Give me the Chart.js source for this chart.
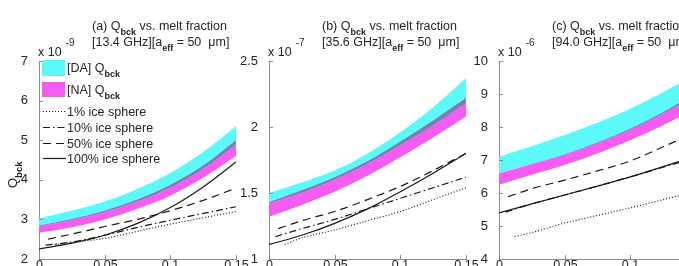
<!DOCTYPE html>
<html>
<head>
<meta charset="utf-8">
<script src="https://cdn.jsdelivr.net/npm/chart.js@4.4.1/dist/chart.umd.min.js"></script>
<style>
html, body { margin: 0; padding: 0; background: #fff; overflow: hidden; width: 679px; height: 266px; }
canvas { position: absolute; top: 0; }
</style>
</head>
<body>
<canvas id="panelA" width="262" height="290" style="left:0px"></canvas>
<canvas id="panelB" width="262" height="290" style="left:230px"></canvas>
<canvas id="panelC" width="262" height="290" style="left:460px"></canvas>
<script>
// melt fraction positions
const meltX = [0, 0.025, 0.05, 0.075, 0.1, 0.125, 0.15];
const meltXDash = [0.007, 0.025, 0.05, 0.075, 0.1, 0.125, 0.15];
const meltXDashDot = [0.005, 0.025, 0.05, 0.075, 0.1, 0.125, 0.15];
const meltXDot = [0.012, 0.025, 0.05, 0.075, 0.1, 0.125, 0.15];
const xTicks = [0, 0.05, 0.1, 0.15];

// (a) 13.4 GHz, x 1e-9
const daHiA = [3.03, 3.22, 3.45, 3.77, 4.17, 4.70, 5.36];
const daLoA = [2.82, 2.98, 3.18, 3.45, 3.80, 4.27, 4.88];
const naHiA = [2.84, 3.01, 3.22, 3.50, 3.87, 4.36, 5.00];
const naLoA = [2.66, 2.80, 3.00, 3.27, 3.60, 4.05, 4.60];
const ice100A = [2.25, 2.40, 2.60, 2.90, 3.30, 3.82, 4.45];
const ice50A = [2.50, 2.63, 2.82, 3.00, 3.22, 3.48, 3.79];
const ice10A = [2.35, 2.43, 2.60, 2.80, 2.98, 3.15, 3.32];
const ice1A = [2.36, 2.42, 2.52, 2.70, 2.88, 3.04, 3.20];
const yTicksA = [2, 3, 4, 5, 6, 7];

// (b) 35.6 GHz, x 1e-7
const daHiB = [1.50, 1.58, 1.67, 1.80, 1.96, 2.15, 2.37];
const daLoB = [1.42, 1.50, 1.60, 1.72, 1.86, 2.01, 2.18];
const naHiB = [1.43, 1.52, 1.62, 1.74, 1.89, 2.05, 2.22];
const naLoB = [1.32, 1.41, 1.51, 1.63, 1.77, 1.92, 2.08];
const ice100B = [1.11, 1.18, 1.27, 1.38, 1.51, 1.65, 1.80];
const ice50B = [1.23, 1.29, 1.36, 1.45, 1.55, 1.67, 1.80];
const ice10B = [1.17, 1.23, 1.30, 1.38, 1.46, 1.54, 1.62];
const ice1B = [1.11, 1.16, 1.22, 1.29, 1.36, 1.45, 1.54];
const yTicksB = [1, 1.5, 2, 2.5];

// (c) 94.0 GHz, x 1e-6
const daHiC = [7.10, 7.42, 7.76, 8.13, 8.55, 9.05, 9.62];
const daLoC = [6.60, 6.87, 7.15, 7.50, 7.90, 8.40, 8.95];
const naHiC = [6.60, 6.88, 7.17, 7.53, 7.95, 8.45, 9.03];
const naLoC = [6.25, 6.55, 6.85, 7.20, 7.60, 8.05, 8.55];
const ice100C = [5.40, 5.67, 5.94, 6.21, 6.49, 6.80, 7.12];
const ice50C = [5.89, 6.13, 6.39, 6.67, 6.97, 7.40, 7.85];
const ice10C = [5.42, 5.67, 5.94, 6.21, 6.49, 6.78, 7.08];
const ice1C = [4.68, 4.80, 5.09, 5.32, 5.55, 5.80, 6.06];
const yTicksC = [4, 5, 6, 7, 8, 9, 10];

const legendLabels = ['[DA] Q', '[NA] Q', '1% ice sphere', '10% ice sphere', '50% ice sphere', '100% ice sphere'];

const FONT = '"Liberation Sans", Arial, sans-serif';
const TXT = '#262626';
const AXIS = '#8c8c8c';
const CYAN = '#5df9f9';
const MAGENTA = '#f65cf1';
const OVERLAP = '#7c7fb0';
const LINE = '#1a1a1a';
const DASH = { solid: [], dashed: [8, 5], dashdot: [7, 3, 1.5, 3], dotted: [1, 2] };

function pts(xs, ys) {
  return ys.map((v, i) => ({ x: xs[i], y: v }));
}

function richText(ctx, x, y, parts, size) {
  let cx = x;
  for (const p of parts) {
    if (p.sub) {
      ctx.font = 'bold ' + (size - 3.5) + 'px ' + FONT;
      ctx.fillText(p.t, cx, y + 5);
    } else if (p.sup) {
      ctx.font = (size - 2.5) + 'px ' + FONT;
      ctx.fillText(p.t, cx + 4, y - 10);
    } else {
      ctx.font = size + 'px ' + FONT;
      ctx.fillText(p.t, cx, y);
    }
    cx += ctx.measureText(p.t).width;
  }
  return cx;
}

function lineSet(data, dash) {
  return {
    data: data,
    borderColor: LINE,
    borderWidth: 1.2,
    borderDash: dash,
    pointRadius: 0,
    fill: false,
    cubicInterpolationMode: 'monotone'
  };
}

function bandSet(data, fill, color) {
  return {
    data: data,
    borderWidth: 0,
    borderColor: 'rgba(0,0,0,0)',
    backgroundColor: color,
    pointRadius: 0,
    fill: fill,
    cubicInterpolationMode: 'monotone'
  };
}

const panelPlugin = {
  id: 'panelDecor',
  afterDraw(chart, args, opts) {
    const ctx = chart.ctx;
    const { left, top, bottom } = chart.chartArea;
    const xs = chart.scales.x, ys = chart.scales.y;
    ctx.save();
    // inward ticks
    ctx.strokeStyle = AXIS;
    ctx.lineWidth = 1;
    ys.ticks.forEach(t => {
      const py = Math.round(ys.getPixelForValue(t.value)) + 0.5;
      ctx.beginPath(); ctx.moveTo(left, py); ctx.lineTo(left + 4, py); ctx.stroke();
    });
    ctx.fillStyle = TXT;
    ctx.font = '12.5px ' + FONT;
    ctx.textAlign = 'center';
    ctx.textBaseline = 'top';
    xs.ticks.forEach(t => {
      const px = Math.round(xs.getPixelForValue(t.value)) + 0.5;
      ctx.beginPath(); ctx.moveTo(px, bottom); ctx.lineTo(px, bottom - 4); ctx.stroke();
      ctx.fillText(String(+t.value.toFixed(2)), px, bottom + 0.5);
    });
    ctx.textBaseline = 'alphabetic';
    ctx.textAlign = 'left';
    // title
    richText(ctx, left + 53, 30, [{ t: opts.tag + ' Q' }, { t: 'bck', sub: true }, { t: ' vs. melt fraction' }], 12.5);
    richText(ctx, left + 53, 46, [{ t: '[' + opts.freq + ' GHz][a' }, { t: 'eff', sub: true }, { t: ' = 50  \u03bcm]' }], 12.5);
    // exponent
    richText(ctx, left - 1, 56, [{ t: 'x 10' }, { t: opts.exp, sup: true }], 12.5);

    if (opts.legend) {
      // y label
      ctx.save();
      ctx.translate(17, 188);
      ctx.rotate(-Math.PI / 2);
      richText(ctx, 0, 0, [{ t: 'Q' }, { t: 'bck', sub: true }], 13);
      ctx.restore();

      const lx = left + 3, lw = 23, tx = left + 28;
      ctx.fillStyle = CYAN;
      ctx.fillRect(lx, 60, lw, 16);
      ctx.fillStyle = MAGENTA;
      ctx.fillRect(lx, 82, lw, 15);
      ctx.fillStyle = TXT;
      richText(ctx, tx, 72, [{ t: legendLabels[0] }, { t: 'bck', sub: true }], 12.5);
      richText(ctx, tx, 94, [{ t: legendLabels[1] }, { t: 'bck', sub: true }], 12.5);
      const rows = [[111, DASH.dotted], [127, DASH.dashdot], [143, DASH.dashed], [158, DASH.solid]];
      rows.forEach((r, i) => {
        ctx.strokeStyle = LINE;
        ctx.lineWidth = 1.2;
        ctx.setLineDash(r[1]);
        ctx.beginPath(); ctx.moveTo(lx + 1, r[0] + 0.5); ctx.lineTo(lx + lw + 1, r[0] + 0.5); ctx.stroke();
        ctx.setLineDash([]);
        ctx.font = '12.5px ' + FONT;
        ctx.fillText(legendLabels[i + 2], tx, r[0] + 4.5);
      });
    }
    ctx.restore();
  }
};

function makePanel(id, p) {
  return new Chart(document.getElementById(id), {
    type: 'line',
    data: {
      datasets: [
        lineSet(pts(meltX, p.ice100), DASH.solid),
        lineSet(pts(meltXDash, p.ice50), DASH.dashed),
        lineSet(pts(meltXDashDot, p.ice10), DASH.dashdot),
        lineSet(pts(meltXDot, p.ice1), DASH.dotted),
        bandSet(pts(meltX, p.naHi), { target: 6, above: OVERLAP, below: 'rgba(0,0,0,0)' }, OVERLAP),
        bandSet(pts(meltX, p.daHi), 6, CYAN),
        bandSet(pts(meltX, p.daLo), false, CYAN),
        bandSet(pts(meltX, p.naHi), 8, MAGENTA),
        bandSet(pts(meltX, p.naLo), false, MAGENTA)
      ]
    },
    options: {
      responsive: false,
      animation: false,
      devicePixelRatio: 1,
      layout: { padding: { top: 61, right: 26, left: 0, bottom: 0 } },
      plugins: {
        legend: { display: false },
        tooltip: { enabled: false },
        panelDecor: { tag: p.tag, freq: p.freq, exp: p.exp, legend: p.legend }
      },
      scales: {
        x: {
          type: 'linear',
          min: 0,
          max: 0.15,
          afterFit: s => { s.height = 31; },
          afterBuildTicks: s => { s.ticks = xTicks.map(v => ({ value: v })); },
          ticks: { display: false },
          grid: { display: false },
          border: { display: true, color: AXIS, width: 1 }
        },
        y: {
          min: p.yTicks[0],
          max: p.yTicks[p.yTicks.length - 1],
          afterFit: s => { s.width = 39; },
          afterBuildTicks: s => { s.ticks = p.yTicks.map(v => ({ value: v })); },
          ticks: {
            padding: 3,
            color: TXT,
            font: { family: FONT, size: 13 },
            callback: v => String(v)
          },
          grid: { display: false },
          border: { display: true, color: AXIS, width: 1 }
        }
      }
    },
    plugins: [panelPlugin]
  });
}

makePanel('panelA', { tag: '(a)', freq: '13.4', exp: '-9', legend: true, yTicks: yTicksA,
  daHi: daHiA, daLo: daLoA, naHi: naHiA, naLo: naLoA, ice100: ice100A, ice50: ice50A, ice10: ice10A, ice1: ice1A });
makePanel('panelB', { tag: '(b)', freq: '35.6', exp: '-7', legend: false, yTicks: yTicksB,
  daHi: daHiB, daLo: daLoB, naHi: naHiB, naLo: naLoB, ice100: ice100B, ice50: ice50B, ice10: ice10B, ice1: ice1B });
makePanel('panelC', { tag: '(c)', freq: '94.0', exp: '-6', legend: false, yTicks: yTicksC,
  daHi: daHiC, daLo: daLoC, naHi: naHiC, naLo: naLoC, ice100: ice100C, ice50: ice50C, ice10: ice10C, ice1: ice1C });
</script>
</body>
</html>
